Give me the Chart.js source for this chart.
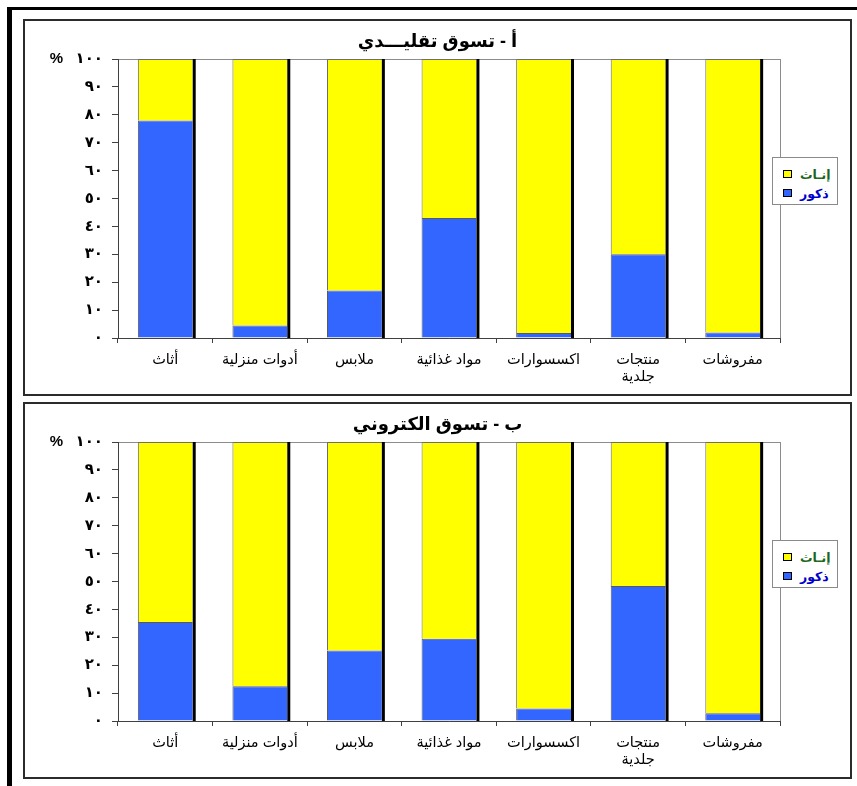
<!DOCTYPE html>
<html lang="ar">
<head>
<meta charset="utf-8">
<script src="https://cdn.jsdelivr.net/npm/chart.js@4.4.1/dist/chart.umd.min.js"></script>
<style>
  html, body { margin: 0; padding: 0; background: #fff; }
  body { width: 857px; height: 786px; position: relative; overflow: hidden;
         font-family: 'Liberation Sans', 'DejaVu Sans', Arial, sans-serif; }
  .frameTop { position: absolute; left: 7px; top: 7px; width: 850px; height: 3px; background: #000; }
  .frameLeft { position: absolute; left: 7px; top: 7px; width: 5px; height: 779px; background: #000; }
  .panel { position: absolute; left: 23px; width: 829px; height: 377px; box-sizing: border-box;
           border: 2px solid #2b2b2b; }
  canvas.c { position: absolute; left: 23px; }
  .title { position: absolute; left: 23px; width: 829px; text-align: center; direction: rtl;
           font-weight: bold; font-size: 18px; color: #000; }
  .legend { position: absolute; left: 772px; width: 66px; height: 48px; box-sizing: border-box;
            border: 1px solid #8a8a8a; background: #fff; }
  .item { position: absolute; left: 10px; height: 16px; display: flex; align-items: center; }
  .sw { width: 9px; height: 8px; border: 1px solid #000; box-sizing: border-box; margin-right: 8px; }
  .lt { font-weight: bold; font-size: 12.5px; direction: rtl; }
</style>
</head>
<body>
<div class="frameTop"></div>
<div class="frameLeft"></div>

<div class="panel" style="top:19px"></div>
<div class="panel" style="top:402px"></div>

<canvas id="c1" class="c" width="829" height="377" style="top:19px"></canvas>
<canvas id="c2" class="c" width="829" height="377" style="top:402px"></canvas>

<div class="title" id="t1" style="top:30px"></div>
<div class="title" id="t2" style="top:413px"></div>

<div class="legend" id="l1" style="top:157px"></div>
<div class="legend" id="l2" style="top:540px"></div>

<script>
// ---- data ----
const categories = [
  'أثاث',
  'أدوات منزلية',
  'ملابس',
  'مواد غذائية',
  'اكسسوارات',
  ['منتجات', 'جلدية'],
  'مفروشات'
];
const seriesNames = ['ذكور', 'إنـاث'];
const titles = ['أ - تسوق تقليـــدي', 'ب - تسوق الكتروني'];

// traditional shopping (males %)
const traditionalMales = [78, 4.5, 17, 43, 1.8, 30, 2];
const traditionalFemales = [22, 95.5, 83, 57, 98.2, 70, 98];
// electronic shopping (males %)
const electronicMales = [35.5, 12.5, 25.3, 29.5, 4.5, 48.4, 2.8];
const electronicFemales = [64.5, 87.5, 74.7, 70.5, 95.5, 51.6, 97.2];

const yTickValues = [0, 10, 20, 30, 40, 50, 60, 70, 80, 90, 100];

// ---- helpers ----
const arDigits = ['٠','١','٢','٣','٤','٥','٦','٧','٨','٩'];
function toArabic(n) { return String(n).replace(/[0-9]/g, d => arDigits[+d]); }

const BLUE = '#3366ff', YELLOW = '#ffff00';

const shadowPlugin = {
  id: 'shadowPlugin',
  beforeDraw(chart) {
    const a = chart.chartArea, ctx = chart.ctx;
    ctx.save();
    ctx.strokeStyle = '#8c8c8c';
    ctx.lineWidth = 1;
    ctx.strokeRect(Math.round(a.left) + 0.5, Math.round(a.top) + 0.5,
                   Math.round(a.right - a.left), Math.round(a.bottom - a.top));
    ctx.restore();
  },
  afterDatasetsDraw(chart) {
    const ctx = chart.ctx;
    const meta = chart.getDatasetMeta(1);
    const base = chart.scales.y.getPixelForValue(0);
    ctx.save();
    ctx.fillStyle = '#000';
    meta.data.forEach(el => {
      const p = el.getProps(['x', 'y', 'width'], true);
      ctx.fillRect(p.x + p.width / 2, p.y, 3, base - p.y);
    });
    ctx.restore();
  }
};

function makeChart(id, males, females) {
  const fontFam = "'Liberation Sans', 'DejaVu Sans', Arial, sans-serif";
  return new Chart(document.getElementById(id), {
    type: 'bar',
    data: {
      labels: categories,
      datasets: [
        { label: seriesNames[0], data: males, backgroundColor: BLUE,
          borderColor: '#5a5a5a', borderWidth: { top: 1, left: 1, right: 0, bottom: 0 }, borderSkipped: false },
        { label: seriesNames[1], data: females, backgroundColor: YELLOW,
          borderColor: '#6e6e6e', borderWidth: { top: 1, left: 1, right: 0, bottom: 0 }, borderSkipped: false }
      ]
    },
    options: {
      responsive: false,
      animation: false,
      devicePixelRatio: 1,
      layout: { padding: { left: 0, right: 72, top: 40, bottom: 8 } },
      plugins: { legend: { display: false }, title: { display: false }, tooltip: { enabled: false } },
      datasets: { bar: { categoryPercentage: 1.0, barPercentage: 0.58 } },
      scales: {
        x: {
          stacked: true,
          grid: { display: true, drawOnChartArea: false, drawTicks: true, tickLength: 5,
                  offset: true, color: '#404040' },
          border: { display: true, color: '#404040', width: 1 },
          ticks: { color: '#000', font: { family: fontFam, size: 14.5, lineHeight: 1.2 }, padding: 8,
                   maxRotation: 0, autoSkip: false },
          afterFit(scale) { scale.height = 50; }
        },
        y: {
          stacked: true, min: 0, max: 100,
          afterBuildTicks(scale) { scale.ticks = yTickValues.map(v => ({ value: v })); },
          grid: { display: true, drawOnChartArea: false, drawTicks: true, tickLength: 6, color: '#404040' },
          border: { display: true, color: '#404040', width: 1 },
          ticks: {
            color: '#000', padding: 9,
            font: { family: fontFam, size: 15, weight: 'bold' },
            callback: v => v === 100 ? '%   ' + toArabic(v) : toArabic(v)
          },
          afterFit(scale) { scale.width = 95; }
        }
      }
    },
    plugins: [shadowPlugin]
  });
}

makeChart('c1', traditionalMales, traditionalFemales);
makeChart('c2', electronicMales, electronicFemales);

// titles and legends (HTML text)
document.getElementById('t1').textContent = titles[0];
document.getElementById('t2').textContent = titles[1];

function buildLegend(id) {
  const box = document.getElementById(id);
  const items = [
    { name: seriesNames[1], color: YELLOW, text: '#1a661a', top: 8 },
    { name: seriesNames[0], color: BLUE, text: '#0000cc', top: 27 }
  ];
  items.forEach(it => {
    const d = document.createElement('div');
    d.className = 'item';
    d.style.top = it.top + 'px';
    const sw = document.createElement('div');
    sw.className = 'sw'; sw.style.background = it.color;
    const t = document.createElement('span');
    t.className = 'lt'; t.style.color = it.text; t.textContent = it.name;
    d.appendChild(sw); d.appendChild(t);
    box.appendChild(d);
  });
}
buildLegend('l1');
buildLegend('l2');
</script>
</body>
</html>
